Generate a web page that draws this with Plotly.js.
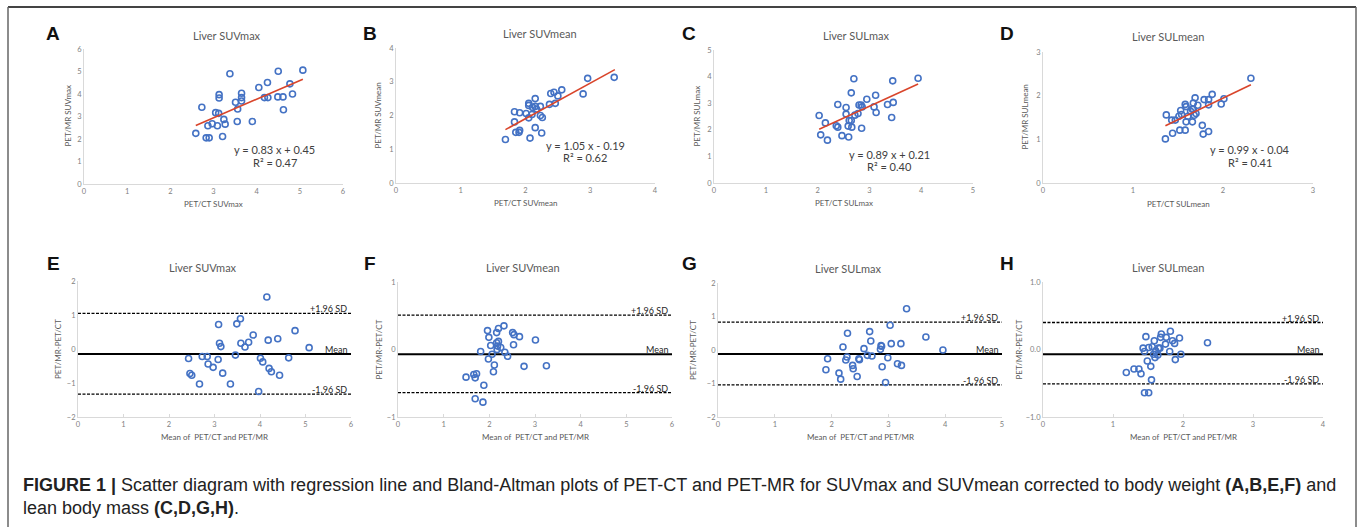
<!DOCTYPE html>
<html>
<head>
<meta charset="utf-8">
<script src="https://cdn.plot.ly/plotly-3.0.1.min.js"></script>
<style>
html,body{margin:0;padding:0;background:#fff;}
#chart{width:1360px;height:527px;}
</style>
</head>
<body>
<div id="chart"></div>
<script>
// ---------- DATA ----------
// A: Liver SUVmax  (PET/CT vs PET/MR)
const aX = [2.59,2.73,2.83,2.90,2.87,2.97,3.09,3.05,3.12,3.13,3.13,3.21,3.24,3.27,3.38,3.51,3.56,3.55,3.65,3.65,3.65,3.90,4.05,4.18,4.26,4.25,4.50,4.49,4.61,4.62,4.77,4.83,5.07];
const aY = [2.25,3.41,2.05,2.05,2.59,2.68,2.59,3.17,3.14,3.97,3.82,2.11,2.87,2.66,4.90,3.63,3.33,2.78,4.03,3.84,3.69,2.78,4.29,3.84,3.84,4.51,5.01,3.87,3.87,3.30,4.45,4.00,5.06];
const aTrendX = [2.59, 5.07];
const aTrendY = [2.60, 4.66];
// B: Liver SUVmean
const bX = [1.69,1.83,1.83,1.85,1.90,1.91,1.91,2.01,2.05,2.05,2.05,2.07,2.10,2.11,2.15,2.15,2.15,2.17,2.23,2.23,2.26,2.25,2.37,2.39,2.44,2.46,2.50,2.56,2.89,2.96,3.37];
const bY = [1.29,2.11,1.81,1.50,1.50,1.56,2.08,2.06,2.36,2.30,1.93,1.33,2.03,2.24,2.50,2.27,1.64,2.19,2.27,2.00,1.94,1.48,2.33,2.65,2.69,2.36,2.58,2.76,2.64,3.10,3.13];
const bTrendX = [1.69, 3.38];
const bTrendY = [1.58, 3.36];
// C: Liver SULmax
const cX = [2.03,2.06,2.15,2.19,2.39,2.36,2.39,2.47,2.55,2.55,2.59,2.60,2.61,2.65,2.65,2.66,2.70,2.72,2.78,2.80,2.84,2.86,2.85,2.95,3.09,3.12,3.13,3.35,3.43,3.45,3.46,3.94];
const cY = [2.54,1.81,2.26,1.61,2.95,2.15,2.10,1.78,2.84,2.59,2.14,1.73,2.35,2.35,3.39,2.10,3.92,2.55,2.61,2.93,2.93,2.86,2.06,3.15,2.86,3.30,2.65,2.95,2.46,3.84,3.03,3.94];
const cTrendX = [2.03, 3.94];
const cTrendY = [2.02, 3.72];
// D: Liver SULmean
const dX = [1.36,1.37,1.43,1.44,1.47,1.51,1.53,1.54,1.52,1.58,1.58,1.59,1.59,1.61,1.64,1.66,1.66,1.67,1.67,1.68,1.69,1.70,1.72,1.77,1.78,1.79,1.84,1.84,1.84,1.88,1.98,2.01,2.31];
const dY = [1.01,1.56,1.44,1.14,1.44,1.53,1.66,1.57,1.21,1.21,1.80,1.75,1.40,1.53,1.64,1.69,1.40,1.83,1.69,1.55,1.95,1.59,1.78,1.32,1.12,1.91,1.91,1.79,1.18,2.03,1.81,1.93,2.40];
const dTrendX = [1.36, 2.31];
const dTrendY = [1.31, 2.25];
// E: Bland-Altman SUVmax
const eX = [2.43,2.46,2.50,2.67,2.73,2.84,2.86,2.97,3.08,3.09,3.11,3.14,3.18,3.35,3.46,3.49,3.57,3.58,3.67,3.75,3.85,3.97,4.01,4.06,4.15,4.18,4.20,4.25,4.39,4.43,4.63,4.77,5.08];
const eY = [-0.28,-0.72,-0.77,-1.03,-0.22,-0.22,-0.44,-0.54,-0.31,0.72,0.17,0.07,-0.71,-1.03,-0.18,0.74,0.89,0.17,0.06,0.20,0.41,-1.25,-0.27,-0.38,1.53,0.26,-0.57,-0.67,0.30,-0.77,-0.26,0.54,0.04];
// F: Bland-Altman SUVmean
const fX = [1.49,1.66,1.69,1.72,1.69,1.81,1.86,1.88,1.96,1.98,1.99,2.03,2.06,2.09,2.11,2.16,2.16,2.17,2.18,2.20,2.20,2.25,2.32,2.34,2.40,2.51,2.54,2.53,2.66,2.76,3.01,3.25];
const fY = [-0.41,-0.37,-0.42,-0.36,-0.73,-0.03,-0.78,-0.53,0.28,-0.14,0.18,0.06,-0.07,-0.33,-0.23,0.25,0.10,0.00,0.05,0.31,0.12,0.03,0.35,-0.04,-0.10,0.25,0.22,0.07,0.19,-0.25,0.14,-0.24];
// G: Bland-Altman SULmax
const gX = [1.90,1.93,2.13,2.16,2.20,2.25,2.27,2.28,2.37,2.38,2.45,2.48,2.49,2.57,2.63,2.67,2.69,2.71,2.86,2.87,2.88,2.89,2.95,2.99,3.03,3.05,3.16,3.22,3.23,3.32,3.66,3.96];
const gY = [-0.59,-0.26,-0.69,-0.87,0.09,-0.30,-0.21,0.50,-0.46,-0.56,-0.79,-0.26,-0.29,0.04,-0.16,0.55,0.27,-0.18,0.02,0.13,0.11,-0.50,-0.97,-0.23,0.74,0.19,-0.41,0.19,-0.46,1.23,0.39,0.00];
// H: Bland-Altman SULmean
const hX = [1.19,1.30,1.37,1.40,1.43,1.45,1.45,1.47,1.49,1.51,1.51,1.54,1.55,1.56,1.58,1.59,1.60,1.61,1.64,1.65,1.67,1.68,1.69,1.75,1.76,1.81,1.82,1.85,1.88,1.89,1.95,1.97,2.35];
const hY = [-0.34,-0.29,-0.29,-0.36,0.02,-0.03,-0.64,0.19,-0.17,-0.64,0.03,-0.25,-0.45,0.04,-0.07,0.13,-0.12,-0.02,-0.08,0.02,0.02,0.18,0.23,0.08,0.18,-0.03,0.27,0.13,0.09,-0.15,0.17,-0.07,0.10];
// Bland-Altman reference lines (E, F, G, H)
const baMean  = [-0.15, -0.07, -0.12, -0.07];
const baUpper = [1.05, 0.51, 0.83, 0.40];
const baLower = [-1.33, -0.64, -1.04, -0.51];
// Text
const panelLetters = ["A","B","C","D","E","F","G","H"];
const panelTitles = ["Liver SUVmax","Liver SUVmean","Liver SULmax","Liver SULmean","Liver SUVmax","Liver SUVmean","Liver SULmax","Liver SULmean"];
const xTitles = ["PET/CT SUVmax","PET/CT SUVmean","PET/CT SULmax","PET/CT SULmean","Mean of  PET/CT and PET/MR","Mean of  PET/CT and PET/MR","Mean of  PET/CT and PET/MR","Mean of  PET/CT and PET/MR"];
const yTitles = ["PET/MR SUVmax","PET/MR SUVmean","PET/MR SULmax","PET/MR SULmean","PET/MR-PET/CT","PET/MR-PET/CT","PET/MR-PET/CT","PET/MR-PET/CT"];
const equations = ["y = 0.83 x + 0.45","y = 1.05 x - 0.19","y = 0.89 x + 0.21","y = 0.99 x - 0.04"];
const rSquared = ["R² = 0.47","R² = 0.62","R² = 0.40","R² = 0.41"];

// ---------- LAYOUT GEOMETRY (pixels) ----------
const W = 1360, H = 527;
const px = v => v / W;
const py = v => 1 - v / H;
const geo = [
  {l:84,  r:343,  t:49,  b:184, xr:[0,6], yr:[0,6],  xt:204, ytx:67,   lx:53,   ly:33,  tx:227,  ty:35},
  {l:396, r:655,  t:48,  b:183, xr:[0,4], yr:[0,4],  xt:203, ytx:377,  lx:370,  ly:33,  tx:540,  ty:34},
  {l:714, r:973,  t:50,  b:183, xr:[0,5], yr:[0,5],  xt:203, ytx:696,  lx:689,  ly:33,  tx:856,  ty:35},
  {l:1043,r:1313, t:52,  b:183, xr:[0,3], yr:[0,3],  xt:204, ytx:1025, lx:1007, ly:33,  tx:1168, ty:36},
  {l:78,  r:351,  t:281, b:417, xr:[0,6], yr:[-2,2], xt:437, ytx:58,   lx:53,   ly:263, tx:203,  ty:267},
  {l:398, r:672,  t:282, b:417, xr:[0,6], yr:[-1,1], xt:437, ytx:378,  lx:370,  ly:263, tx:523,  ty:267},
  {l:718, r:1002, t:283, b:417, xr:[0,5], yr:[-2,2], xt:437, ytx:693,  lx:689,  ly:263, tx:848,  ty:268},
  {l:1043,r:1323, t:282, b:417, xr:[0,4], yr:[-1,1], xt:437, ytx:1018, lx:1007, ly:263, tx:1168, ty:267}
];

const scatterX = [aX,bX,cX,dX,eX,fX,gX,hX];
const scatterY = [aY,bY,cY,dY,eY,fY,gY,hY];
const trendX = [aTrendX,bTrendX,cTrendX,dTrendX];
const trendY = [aTrendY,bTrendY,cTrendY,dTrendY];
const eqPos = [[4.42,1.53,0.94],[2.92,1.12,0.77],[3.39,1.07,0.63],[2.30,0.77,0.47]];

const BLUE = '#4472C4';
const RED = '#D9452B';
const GREYTXT = '#595959';
const FONT = 'Lato, "Open Sans", sans-serif';

const traces = [];
const layout = {
  width: W, height: H,
  margin: {l:0, r:0, t:0, b:0},
  paper_bgcolor: '#fff', plot_bgcolor: '#fff',
  showlegend: false,
  font: {family: FONT, color: GREYTXT, size: 8},
  annotations: [],
  shapes: []
};

geo.forEach((g, i) => {
  const n = i === 0 ? '' : String(i + 1);
  const xa = 'x' + n, ya = 'y' + n;
  layout['xaxis' + n] = {
    domain: [px(g.l), px(g.r)], range: g.xr, anchor: ya,
    showgrid: false, zeroline: false, showline: true, linecolor: '#d9d9d9', linewidth: 1,
    ticks: i >= 4 ? 'inside' : '', ticklen: 3, tickcolor: '#d9d9d9', dtick: 1,
    tickfont: {size: 7.5, color: '#7f7f7f', family: FONT}, fixedrange: true
  };
  layout['yaxis' + n] = {
    domain: [py(g.b), py(g.t)], range: g.yr, anchor: xa,
    showgrid: false, zeroline: false, showline: true, linecolor: '#d9d9d9', linewidth: 1,
    ticks: '', dtick: 1, tickformat: i === 7 ? '.1f' : 'd',
    tickfont: {size: 7.5, color: '#7f7f7f', family: FONT}, fixedrange: true
  };

  // Bland-Altman reference lines
  if (i >= 4) {
    const k = i - 4;
    const xmax = g.xr[1];
    traces.push({x:[0,xmax], y:[baUpper[k],baUpper[k]], xaxis:xa, yaxis:ya, mode:'lines',
      line:{color:'#000', width:1.3, dash:'3px,1.5px'}, hoverinfo:'skip'});
    traces.push({x:[0,xmax], y:[baLower[k],baLower[k]], xaxis:xa, yaxis:ya, mode:'lines',
      line:{color:'#000', width:1.3, dash:'3px,1.5px'}, hoverinfo:'skip'});
    traces.push({x:[0,xmax], y:[baMean[k],baMean[k]], xaxis:xa, yaxis:ya, mode:'lines',
      line:{color:'#000', width:2}, hoverinfo:'skip'});
    const lbl = [['+1.96 SD', baUpper[k]], ['Mean', baMean[k]], ['-1.96 SD', baLower[k]]];
    lbl.forEach(([t, v]) => {
      layout.annotations.push({xref:xa, yref:ya, x:xmax, y:v, text:t, showarrow:false,
        xanchor:'right', yanchor:'bottom', xshift:-2, yshift:-3,
        font:{size:9, color:'#262626', family:FONT}});
    });
  }

  // scatter points
  traces.push({x: scatterX[i], y: scatterY[i], xaxis: xa, yaxis: ya, mode: 'markers',
    marker: {symbol: 'circle-open', size: 6, color: BLUE, line: {width: 1.6, color: BLUE}},
    hoverinfo: 'x+y'});

  // regression
  if (i < 4) {
    traces.push({x: trendX[i], y: trendY[i], xaxis: xa, yaxis: ya, mode: 'lines',
      line: {color: RED, width: 1.6}, hoverinfo: 'skip'});
    const e = eqPos[i];
    layout.annotations.push({xref:xa, yref:ya, x:e[0], y:e[1], text:equations[i], showarrow:false,
      xanchor:'center', yanchor:'middle', font:{size:11, color:'#404040', family:FONT}});
    layout.annotations.push({xref:xa, yref:ya, x:e[0], y:e[2], text:rSquared[i], showarrow:false,
      xanchor:'center', yanchor:'middle', font:{size:11, color:'#404040', family:FONT}});
  }

  // panel titles
  layout.annotations.push({xref:'paper', yref:'paper', x:px(g.tx), y:py(g.ty), text:panelTitles[i],
    showarrow:false, xanchor:'center', yanchor:'middle', font:{size:11, color:GREYTXT, family:FONT}});
  // panel letters
  layout.annotations.push({xref:'paper', yref:'paper', x:px(g.lx), y:py(g.ly), text:'<b>'+panelLetters[i]+'</b>',
    showarrow:false, xanchor:'center', yanchor:'middle', font:{size:19, color:'#111', family:'"Liberation Sans", Arial, sans-serif'}});
  // x title
  layout.annotations.push({xref:'paper', yref:'paper', x:px((g.l+g.r)/2), y:py(g.xt), text:xTitles[i],
    showarrow:false, xanchor:'center', yanchor:'middle', font:{size:8, color:GREYTXT, family:FONT}});
  // y title
  layout.annotations.push({xref:'paper', yref:'paper', x:px(g.ytx), y:py((g.t+g.b)/2), text:yTitles[i],
    showarrow:false, xanchor:'center', yanchor:'middle', textangle:-90, font:{size:8, color:GREYTXT, family:FONT}});
});

// caption
const CAPFONT = '"Liberation Sans", Arial, Helvetica, sans-serif';
layout.annotations.push({xref:'paper', yref:'paper', x:px(21), y:py(485), xanchor:'left', yanchor:'middle', showarrow:false,
  text:'<b>FIGURE 1 |</b> Scatter diagram with regression line and Bland-Altman plots of PET-CT and PET-MR for SUVmax and SUVmean corrected to body weight <b>(A,B,E,F)</b> and',
  font:{size:18, color:'#222', family:CAPFONT}});
layout.annotations.push({xref:'paper', yref:'paper', x:px(21), y:py(508), xanchor:'left', yanchor:'middle', showarrow:false,
  text:'lean body mass <b>(C,D,G,H)</b>.',
  font:{size:18, color:'#222', family:CAPFONT}});

// frame
layout.shapes.push({type:'line', xref:'paper', yref:'paper', x0:px(8), x1:px(1356), y0:py(7), y1:py(7), line:{color:'#444', width:2}});
layout.shapes.push({type:'line', xref:'paper', yref:'paper', x0:px(8), x1:px(8), y0:py(7), y1:py(530), line:{color:'#666', width:1.5}});
layout.shapes.push({type:'line', xref:'paper', yref:'paper', x0:px(1356), x1:px(1356), y0:py(7), y1:py(530), line:{color:'#666', width:1.5}});

Plotly.newPlot('chart', traces, layout, {displayModeBar: false, staticPlot: true});
</script>
</body>
</html>
